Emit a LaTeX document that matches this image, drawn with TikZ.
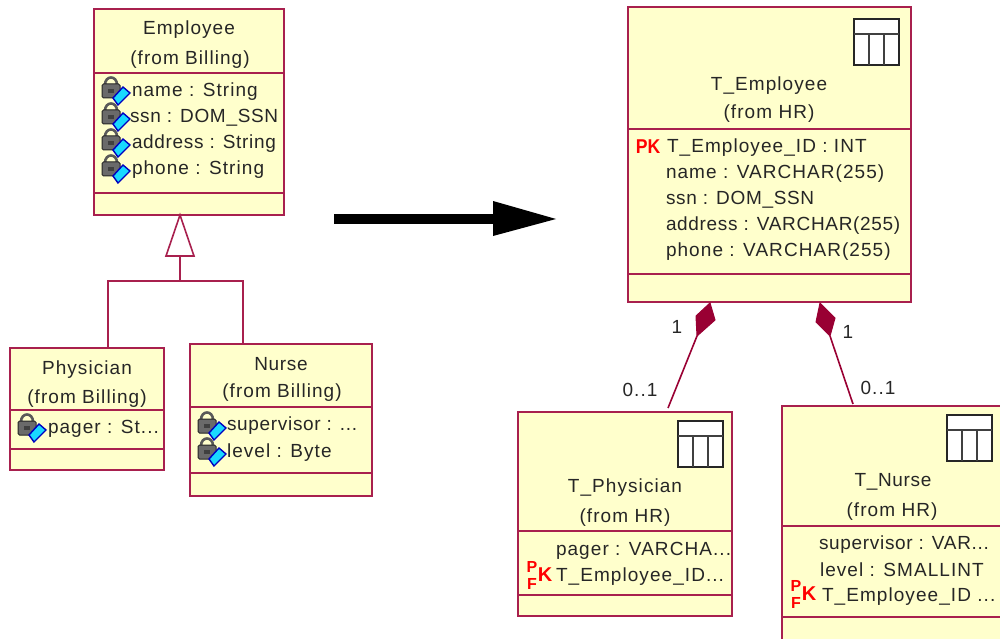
\documentclass[tikz,border=0pt]{standalone}
\usepackage{fontspec}
\setmainfont{Liberation Sans}[LetterSpace=5.6]
\newfontfamily\pkfont{Liberation Sans}
\newfontfamily\tightfont{Liberation Sans}[LetterSpace=3.6]
\definecolor{boxfill}{HTML}{FFFFCC}
\definecolor{boxline}{HTML}{A8204E}
\definecolor{assoc}{HTML}{990033}
\definecolor{lockgray}{HTML}{6A6A6A}
\definecolor{keycyan}{HTML}{19D9FF}
\newcommand{\lockicon}[1]{%
  \begin{scope}[shift={(#1)}]
    \draw[black!65,line width=2.6pt] (-6,-3) .. controls (-6,-13) and (6,-13) .. (6,-3);
    \fill[lockgray,draw=black!85,line width=1pt,rounded corners=1.5pt] (-9,-4) rectangle (9,10);
    \fill[black!75] (-3,1) rectangle (3,5);
    \fill[keycyan,draw=blue!75!black,line width=1.4pt] (2,10) -- (12,-1) -- (19,5) -- (7,17) -- cycle;
  \end{scope}}
\newcommand{\tableicon}[1]{%
  \begin{scope}[shift={(#1)}]
    \draw[black!85,fill=white,line width=1.8pt] (0,0) rectangle (45,46);
    \draw[black!75,line width=1.6pt] (0,15) -- (45,15) (15,15) -- (15,46) (30,15) -- (30,46);
  \end{scope}}
\newcommand{\pkmark}[1]{\node[pkstyle,xscale=0.88] at (#1) {\pkfont\bfseries PK};}
\newcommand{\pfkmark}[1]{%
  \begin{scope}[shift={(#1)}]
    \node[pkstyle,font=\fontsize{16}{16}\selectfont] at (-2,-7) {\pkfont\bfseries P};
    \node[pkstyle,font=\fontsize{16}{16}\selectfont] at (-2,10) {\pkfont\bfseries F};
    \node[pkstyle] at (11,1) {\pkfont\bfseries K};
  \end{scope}}
\tikzset{
  x=1pt,y=-1pt,
  umlbox/.style={draw=boxline,fill=boxfill,line width=1.6pt,outer sep=0pt,inner sep=0pt,anchor=north west},
  sepline/.style={draw=boxline,line width=1.6pt},
  label/.style={inner sep=0pt,outer sep=0pt,font=\fontsize{19}{19}\selectfont,text=black!85,yshift=-2pt},
  attr/.style={label,anchor=west},
  title/.style={label,anchor=center},
  tight/.style={font=\fontsize{19}{19}\selectfont\tightfont},
  pkstyle/.style={inner sep=0pt,text=red,font=\fontsize{20}{20}\selectfont},
  conn/.style={draw=boxline,line width=1.6pt},
  compo/.style={draw=assoc,line width=1.6pt},
  compofill/.style={fill=assoc,draw=assoc,line width=1pt},
}
\begin{document}
\begin{tikzpicture}
\useasboundingbox (0,0) rectangle (1000,639);
% Employee
\node[umlbox,minimum width=190pt,minimum height=206pt] (emp) at (94,9) {};
\draw[sepline] (94,73) -- (284,73) (94,193) -- (284,193);
\node[title] (empt) at (189,28) {Employee};
\node[title] (empf) at (190,58) {(from Billing)};
\lockicon{111,88}\lockicon{111,114}\lockicon{111,140}\lockicon{111,166}
\node[attr] (e1) at (132,90) {name : String};
\node[attr,tight] (e2) at (130,116) {ssn : DOM\_SSN};
\node[attr,tight] (e3) at (132,142) {address : String};
\node[attr] (e4) at (132,168) {phone : String};
% Physician
\node[umlbox,minimum width=154pt,minimum height=122pt] (phy) at (10,348) {};
\draw[sepline] (10,410) -- (164,410) (10,449) -- (164,449);
\node[title] (phyt) at (87,368) {Physician};
\node[title] (phyf) at (87,397) {(from Billing)};
\lockicon{27,425}
\node[attr] (p1) at (48,427) {pager : St...};
% Nurse
\node[umlbox,minimum width=182pt,minimum height=152pt] (nur) at (190,344) {};
\draw[sepline] (190,407) -- (372,407) (190,473) -- (372,473);
\node[title,tight] (nurt) at (281,362) {Nurse};
\node[title] (nurf) at (282,391) {(from Billing)};
\lockicon{207,423}\lockicon{207,449}
\node[attr,tight] (n1) at (227,424) {supervisor : ...};
\node[attr] (n2) at (227,451) {level : Byte};
% Generalization
\coordinate (gtop) at (emp.south -| 180,0);
\coordinate (gl) at (166,256);
\coordinate (gr) at (194,256);
\coordinate (gb) at (180,256);
\coordinate (gj) at (180,281);
\draw[conn,fill=white,line join=miter] (gtop) -- (gr) -- (gl) -- cycle;
\draw[conn] (gb) -- (gj);
\draw[conn] (gj) -| (phy.north -| 108,0);
\draw[conn] (gj) -| (nur.north -| 243,0);
% Big arrow
\coordinate (as) at (334,219);
\coordinate (am) at (494,219);
\coordinate (ae) at (556,219);
\draw[black,line width=10pt] (as) -- (am);
\fill[black] (ae) -- (493,201) -- (493,236) -- cycle;
% T_Employee
\node[umlbox,minimum width=283pt,minimum height=295pt] (temp) at (628,7) {};
\draw[sepline] (628,129) -- (911,129) (628,274) -- (911,274);
\tableicon{854,19}
\node[title] (tempt) at (769,84) {T\_Employee};
\node[title] (tempf) at (769,112) {(from HR)};
\pkmark{648,147}
\node[attr] (t1) at (667,146) {T\_Employee\_ID : INT};
\node[attr] (t2) at (666,172) {name : VARCHAR(255)};
\node[attr,tight] (t3) at (666,198) {ssn : DOM\_SSN};
\node[attr,tight] (t4) at (666,224) {address : VARCHAR(255)};
\node[attr] (t5) at (666,250) {phone : VARCHAR(255)};
% T_Physician
\node[umlbox,minimum width=214pt,minimum height=204pt] (tphy) at (518,412) {};
\draw[sepline] (518,531) -- (732,531) (518,595) -- (732,595);
\tableicon{678,421}
\node[title] (tphyt) at (625,486) {T\_Physician};
\node[title] (tphyf) at (625,516) {(from HR)};
\node[attr] (tp1) at (556,549) {pager : VARCHA...};
\pfkmark{534,574}
\node[attr] (tp2) at (556,575) {T\_Employee\_ID...};
% T_Nurse
\node[umlbox,minimum width=240pt,minimum height=260pt] (tnur) at (782,406) {};
\draw[sepline] (782,526) -- (1000,526) (782,617) -- (1000,617);
\tableicon{947,415}
\node[title,tight] (tnurt) at (893,480) {T\_Nurse};
\node[title] (tnurf) at (892,510) {(from HR)};
\node[attr,tight] (tn1) at (819,543) {supervisor : VAR...};
\node[attr] (tn2) at (820,568) {level : SMALLINT};
\pfkmark{798,593}
\node[attr] (tn3) at (822,595) {T\_Employee\_ID ...};
% Composition left
\coordinate (dla) at (710,303);
\coordinate (dlb) at (715,320);
\coordinate (dlc) at (697,336);
\coordinate (dld) at (696,316);
\coordinate (dle) at (668,408);
\draw[compofill] (dla) -- (dlb) -- (dlc) -- (dld) -- cycle;
\draw[compo] (dlc) -- (dle);
\node[label] (l1) at (677,325) {1};
\node[label] (l01) at (640,388) {0..1};
% Composition right
\coordinate (dra) at (820,303);
\coordinate (drb) at (835,318);
\coordinate (drc) at (830,336);
\coordinate (drd) at (816,322);
\coordinate (dre) at (853,404);
\draw[compofill] (dra) -- (drb) -- (drc) -- (drd) -- cycle;
\draw[compo] (drc) -- (dre);
\node[label] (r1) at (848,330) {1};
\node[label] (r01) at (878,386) {0..1};
\end{tikzpicture}
\end{document}
